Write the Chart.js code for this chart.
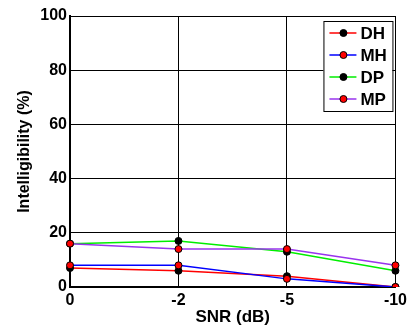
<!DOCTYPE html>
<html>
<head>
<meta charset="utf-8">
<script src="https://cdn.jsdelivr.net/npm/chart.js@4.4.0/dist/chart.umd.min.js"></script>
<style>
  html, body { margin: 0; padding: 0; background: #fff; }
  #wrap { width: 411px; height: 331px; }
</style>
</head>
<body>
<div id="wrap"><canvas id="myChart" width="411" height="331"></canvas></div>
<script>
const labels = ['0', '-2', '-5', '-10'];
const dhData = [7, 6, 4, 0];
const mhData = [8, 8, 3, 0];
const dpData = [16, 17, 13, 6];
const mpData = [16, 14, 14, 8];

const fontFamily = "Arial, 'Liberation Sans', sans-serif";

// legend drawn by hand: line + marker + label, in a framed box
const boxLegend = {
    id: 'boxLegend',
    afterDatasetsDraw(chart) {
        const c = chart.ctx;
        const area = chart.chartArea;
        const x0 = area.right - 72;
        const y0 = area.top + 5;
        const w = 69;
        const h = 90;
        c.save();
        c.fillStyle = '#fff';
        c.fillRect(x0, y0, w, h);
        c.strokeStyle = '#000';
        c.lineWidth = 1;
        c.strokeRect(x0 + 0.5, y0 + 0.5, w, h);
        const items = chart.data.datasets;
        items.forEach((ds, i) => {
            const y = y0 + 12 + i * 22;
            c.strokeStyle = ds.borderColor;
            c.lineWidth = 1.5;
            c.beginPath();
            c.moveTo(x0 + 6, y);
            c.lineTo(x0 + 33, y);
            c.stroke();
            c.beginPath();
            c.arc(x0 + 20, y, 3.5, 0, Math.PI * 2);
            c.fillStyle = ds.pointBackgroundColor;
            c.fill();
            c.strokeStyle = '#000';
            c.lineWidth = 1;
            c.stroke();
            c.fillStyle = '#000';
            c.font = 'bold 17px ' + fontFamily;
            c.textAlign = 'left';
            c.textBaseline = 'middle';
            c.fillText(ds.label, x0 + 37, y + 1);
        });
        c.restore();
    }
};

function series(label, data, color, marker, order) {
    return {
        label: label,
        data: data,
        borderColor: color,
        borderWidth: 1.5,
        pointBackgroundColor: marker,
        pointBorderColor: '#000',
        pointBorderWidth: 1,
        pointRadius: 3.5,
        tension: 0,
        order: order
    };
}

const ctx = document.getElementById('myChart').getContext('2d');
const myChart = new Chart(ctx, {
    type: 'line',
    data: {
        labels: labels,
        datasets: [
            series('DH', dhData, '#ff0000', '#000000', 4),
            series('MH', mhData, '#0000ff', '#ff0000', 3),
            series('DP', dpData, '#00ee00', '#000000', 2),
            series('MP', mpData, '#9933ee', '#ff0000', 1)
        ]
    },
    options: {
        responsive: false,
        animation: false,
        layout: { padding: { top: 16, right: 10, left: 0, bottom: 0 } },
        plugins: {
            legend: { display: false },
            tooltip: { enabled: false }
        },
        scales: {
            x: {
                type: 'category',
                offset: false,
                afterFit(scale) { scale.height = 44; },
                grid: { color: '#000', lineWidth: 1, drawTicks: false },
                border: { color: '#000', width: 2 },
                ticks: {
                    color: '#000',
                    padding: 4,
                    maxRotation: 0,
                    font: { family: fontFamily, size: 16, weight: 'bold' }
                },
                title: {
                    display: true,
                    text: 'SNR (dB)',
                    color: '#000',
                    padding: { top: 0, bottom: 3 },
                    font: { family: fontFamily, size: 17, weight: 'bold' }
                }
            },
            y: {
                min: 0,
                max: 100,
                afterFit(scale) { scale.width = 70; },
                grid: { color: '#000', lineWidth: 1, drawTicks: false },
                border: { color: '#000', width: 2 },
                ticks: {
                    stepSize: 20,
                    color: '#000',
                    padding: 3,
                    font: { family: fontFamily, size: 16, weight: 'bold' }
                },
                title: {
                    display: true,
                    text: 'Intelligibility (%)',
                    color: '#000',
                    padding: { top: 15, bottom: 0 },
                    font: { family: fontFamily, size: 16, weight: 'bold' }
                }
            }
        }
    },
    plugins: [boxLegend]
});
</script>
</body>
</html>
